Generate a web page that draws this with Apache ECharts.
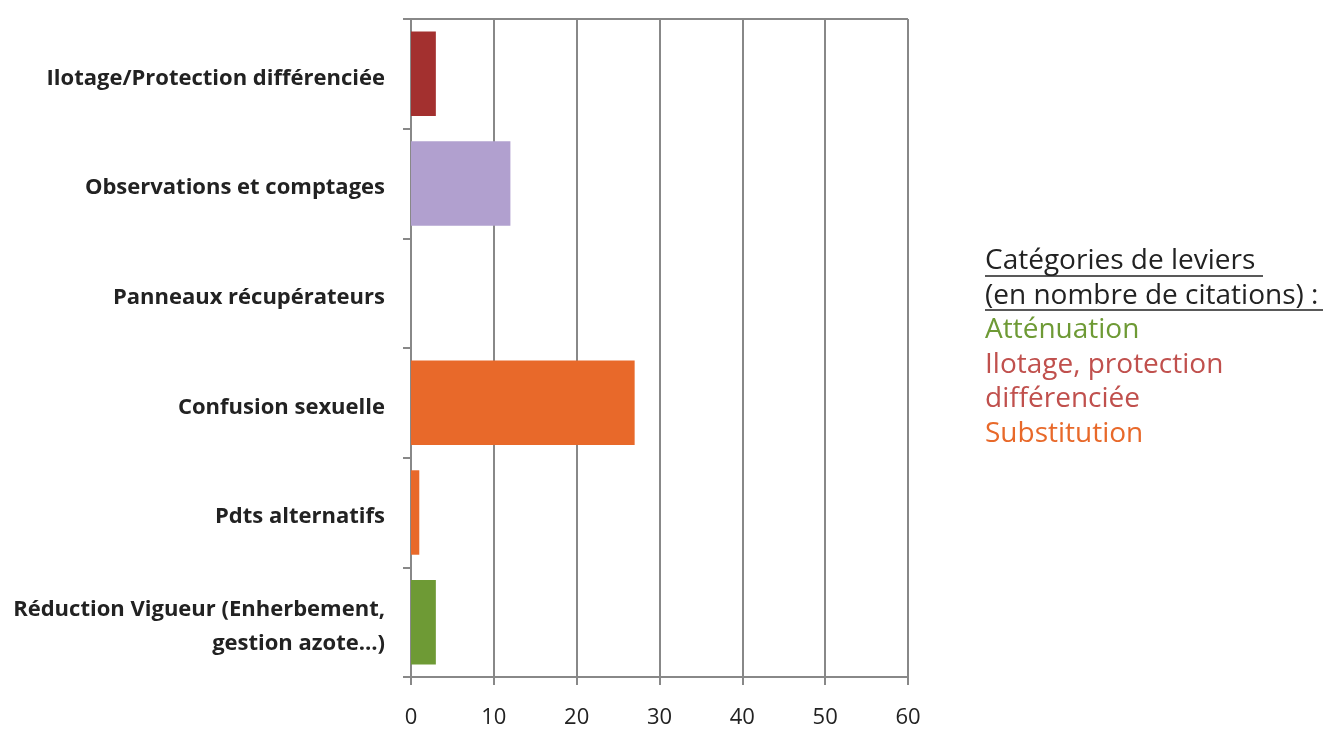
<!DOCTYPE html>
<html><head><meta charset="utf-8">
<script src="https://cdn.jsdelivr.net/npm/echarts@6/dist/echarts.min.js"></script>
<style>html,body{margin:0;padding:0;background:#fff}#c{width:1327px;height:729px}</style>
</head><body><div id="c"></div>
<script>
const categories = ["Ilotage/Protection différenciée","Observations et comptages","Panneaux récupérateurs","Confusion sexuelle","Pdts alternatifs","Réduction Vigueur (Enherbement,\ngestion azote…)"];
const values = [3, 12, 0, 27, 1, 3];
const barColors = ["#A3302F","#B1A0CF","#E8692A","#E8692A","#E8692A","#6E9A35"];
const xTicks = [0,10,20,30,40,50,60];
const legendLines = ["Catégories de leviers ","(en nombre de citations) :","Atténuation","Ilotage, protection","différenciée","Substitution"];

const chart = echarts.init(document.getElementById('c'));
chart.setOption({
  animation:false,
  grid:{left:411,right:419,top:19,bottom:49,containLabel:false,show:false},
  xAxis:{type:'value',min:xTicks[0],max:xTicks[xTicks.length-1],interval:10,position:'bottom',
    axisLine:{show:true,lineStyle:{color:'#888',width:2}},
    axisTick:{show:true,length:8,lineStyle:{color:'#888',width:2}},
    splitLine:{show:true,lineStyle:{color:'#888',width:2}},
    axisLabel:{color:'#222',fontSize:22,fontFamily:'Open Sans',margin:30}},
  yAxis:{type:'category',data:categories,inverse:true,
    axisLine:{show:true,lineStyle:{color:'#888',width:2}},
    axisTick:{show:true,length:8,lineStyle:{color:'#888',width:2}},
    axisLabel:{margin:26,align:'right',
      formatter:v=>'{s| }\n'+v.split('\n').map(l=>'{a|'+l+'}').join('\n'),
      rich:{s:{fontSize:1,lineHeight:9},
            a:{color:'#222',fontSize:22,fontWeight:'bold',fontFamily:'Open Sans',lineHeight:34,align:'right'}}}},
  series:[{type:'bar',data:values.map((v,i)=>({value:v,itemStyle:{color:barColors[i]}})),barCategoryGap:'23%'}],
  graphic:[
    {type:'line',shape:{x1:411,y1:19,x2:908,y2:19},style:{stroke:'#888',lineWidth:2}},
    {type:'text',left:985,top:247,style:{text:
      '{h|'+legendLines[0]+'}\n{h|'+legendLines[1]+'}\n{g|'+legendLines[2]+'}\n{r|'+legendLines[3]+'}\n{r|'+legendLines[4]+'}\n{o|'+legendLines[5]+'}',
      rich:{h:{fill:'#222',fontSize:28,fontFamily:'Open Sans',lineHeight:34.6},
            g:{fill:'#6E9A35',fontSize:28,fontFamily:'Open Sans',lineHeight:34.6},
            r:{fill:'#C0504D',fontSize:28,fontFamily:'Open Sans',lineHeight:34.6},
            o:{fill:'#E8692A',fontSize:28,fontFamily:'Open Sans',lineHeight:34.6}}}},
    {type:'line',shape:{x1:985,y1:276,x2:1263,y2:276},style:{stroke:'#222',lineWidth:1.5}},
    {type:'line',shape:{x1:985,y1:310,x2:1323,y2:310},style:{stroke:'#222',lineWidth:1.5}}
  ]
});
</script></body></html>
